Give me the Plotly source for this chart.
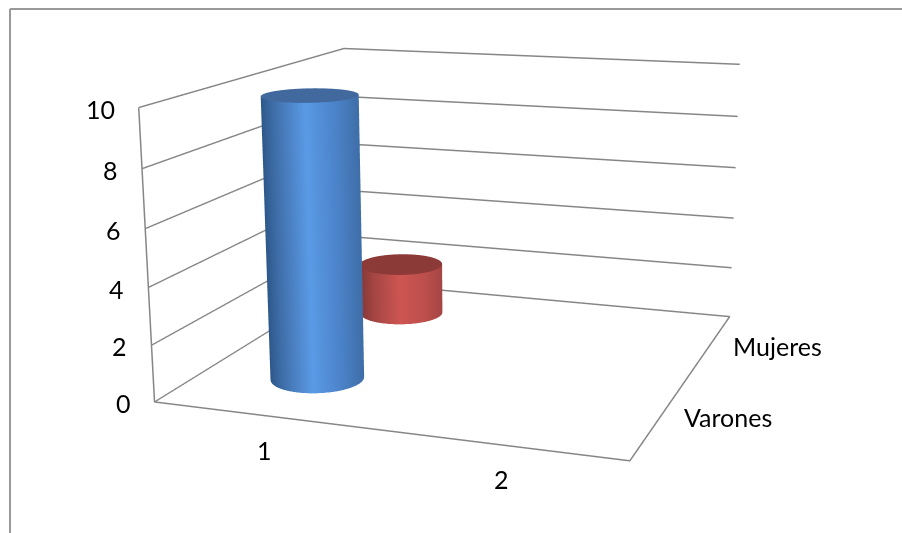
import numpy as np
import plotly.graph_objects as go

# Chart values
categories = ['1', '2']
series = ['Varones', 'Mujeres']
varones = [10, 0]
mujeres = [2, 0]
zticks = [0, 2, 4, 6, 8, 10]

# Page layout: the tall canvas gives a long lens, lifted so its axis sits mid-window
W, H = 902, 1341
LIFT = 404
LINE = '#868686'
FRAME = '#9a9a9a'

# Scene camera and proportions
eye = dict(x=1.8604, y=-5.2573, z=1.2891)
center = dict(x=-0.0342, y=-0.0513, z=-0.1494)
up = dict(x=-0.0812, y=0.2378, z=0.9679)
aspect = dict(x=1.616, y=1.621, z=0.985)
RADIUS = 0.2

# Column footprints on the floor, per series
VARONES_AT = (.505, .5)
MUJERES_AT = (.475, 1.55)

BLUE = [[0, '#2c5688'], [.2, '#4272ae'], [.5, '#5a9ae6'], [.8, '#4b82c8'], [1, '#3f6fa9']]
RED = [[0, '#823735'], [.2, '#a54644'], [.5, '#cd5552'], [.8, '#bd4f4c'], [1, '#a54644']]
FLAT = dict(ambient=1, diffuse=0, specular=0, fresnel=0, roughness=1)
VIEW_ANGLE = np.arctan2(eye['y'], eye['x'])


def cylinder(cx, cy, value, stops, cap):
    """Side wall shaded by how squarely it faces the viewer, plus a flat lid."""
    th = np.linspace(0, 2 * np.pi, 121)
    TH, Z = np.meshgrid(th, [0, value])
    side = go.Surface(x=cx + RADIUS * np.cos(TH), y=cy + RADIUS * np.sin(TH), z=Z,
                      surfacecolor=np.sin(TH - VIEW_ANGLE), colorscale=stops, cmin=-1, cmax=1,
                      showscale=False, hoverinfo='skip', lighting=FLAT)
    rad = np.linspace(0, 1, 2)
    lid = go.Surface(x=cx + RADIUS * np.outer(rad, np.cos(th)), y=cy + RADIUS * np.outer(rad, np.sin(th)),
                     z=np.full((2, 121), value), surfacecolor=np.zeros((2, 121)),
                     colorscale=[[0, cap], [1, cap]], showscale=False, hoverinfo='skip', lighting=FLAT)
    return [side, lid]


fig = go.Figure()
for tr in cylinder(*MUJERES_AT, mujeres[0], RED, '#8c3a38') + cylinder(*VARONES_AT, varones[0], BLUE, '#41699e'):
    fig.add_trace(tr)

# Floor outline and the front vertical of the value axis
fig.add_trace(go.Scatter3d(x=[0, 0, 2, 2, 0], y=[0, 0, 0, 2, 2], z=[zticks[-1], 0, 0, 0, 0], mode='lines',
                           line=dict(color=LINE, width=3), hoverinfo='skip', showlegend=False))

bare = dict(showbackground=False, showgrid=False, zeroline=False, showline=False, showticklabels=False,
            ticks='', title='', showspikes=False)
font = dict(family='Lato', size=25, color='#000')
labels = [dict(x=0, y=0, z=v, text=str(v), xanchor='right', yanchor='middle', xshift=-22, yshift=-1,
               showarrow=False, font=font) for v in zticks]
labels += [dict(x=i + .5, y=0, z=0, text=c, yshift=-34, showarrow=False, font=font)
           for i, c in enumerate(categories)]
labels += [dict(x=2, y=i + .5, z=0, text=c, xanchor='left', xshift=22, showarrow=False, font=font)
           for i, c in enumerate(series)]

top = 1 - (9 + LIFT) / H
bottom = 1 - (533 + LIFT) / H
fig.update_layout(
    width=W, height=H, margin=dict(l=0, r=0, t=0, b=0), paper_bgcolor='white', showlegend=False,
    scene=dict(domain=dict(x=[0, 1], y=[0, 1]),
               xaxis=dict(bare, range=[0, 2]), yaxis=dict(bare, range=[0, 2]),
               zaxis=dict(bare, range=[0, 10], showgrid=True, gridcolor=LINE, gridwidth=3, tickvals=zticks),
               aspectmode='manual', aspectratio=aspect,
               camera=dict(eye=eye, center=center, up=up), annotations=labels),
    shapes=[dict(type='line', xref='paper', yref='paper', x0=10 / W, x1=1, y0=top, y1=top,
                 line=dict(color=FRAME, width=2)),
            dict(type='line', xref='paper', yref='paper', x0=10 / W, x1=10 / W, y0=bottom, y1=top,
                 line=dict(color=FRAME, width=2))])

lift_js = ("document.documentElement.style.overflow='hidden';document.body.style.overflow='hidden';"
           f"document.getElementById('{{plot_id}}').style.marginTop='-{LIFT}px';")
fig.write_html('out.html', post_script=lift_js)
